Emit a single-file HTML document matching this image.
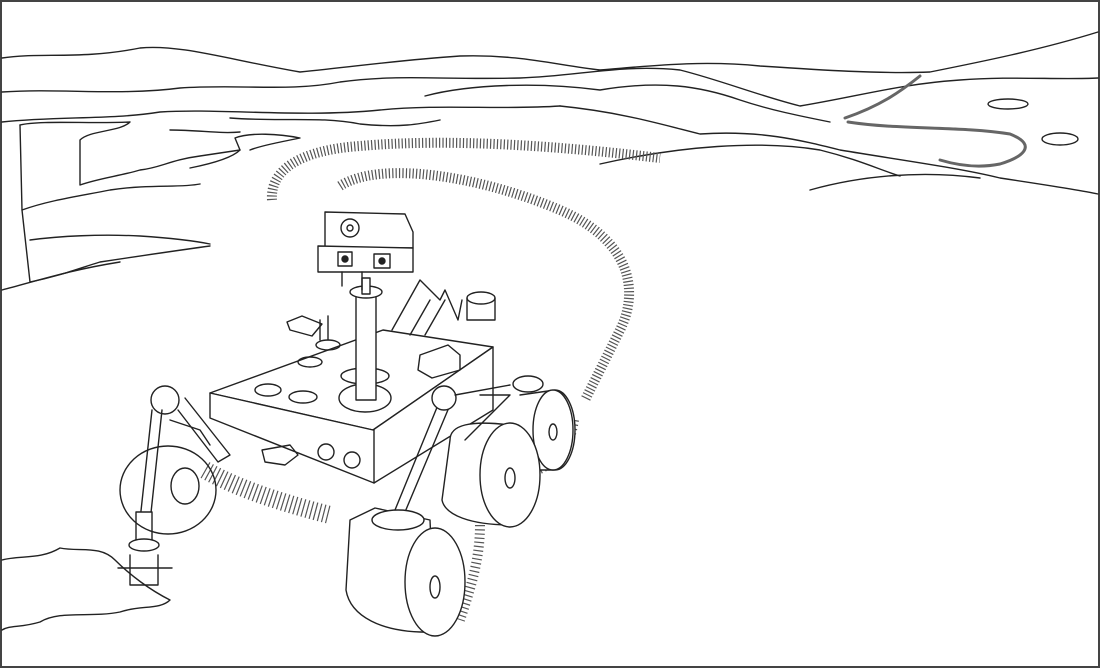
<!DOCTYPE html>
<html><head><meta charset="utf-8"><style>html,body{margin:0;padding:0;background:#fff}svg{display:block}</style></head>
<body>
<svg width="1100" height="668" viewBox="0 0 1100 668" xmlns="http://www.w3.org/2000/svg">
<rect x="1" y="1" width="1098" height="666" fill="#fff" stroke="#444" stroke-width="2"/>
<g fill="none" stroke="#222" stroke-width="1.4" stroke-linejoin="round" stroke-linecap="round">
<path d="M2,58 C40,52 80,60 140,48 C180,44 230,60 300,72 C360,66 400,60 460,56 C520,54 560,66 600,70 C650,66 700,60 760,66 C820,70 880,74 930,72 C980,62 1040,50 1098,32"/>
<path d="M2,92 C60,88 120,96 180,88 C240,84 290,92 340,82 C400,74 440,80 520,78 C580,76 620,64 680,70 C720,80 760,96 800,106 C860,96 900,84 960,80 C1010,76 1060,80 1098,78"/>
<path d="M425,96 C470,84 540,82 600,90 C660,80 700,86 740,100 C770,110 800,116 830,122"/>
<path d="M2,122 C60,116 110,120 160,112 C220,108 300,118 380,110 C440,104 500,110 560,106"/>
<path d="M560,106 C620,112 660,124 700,134 C760,130 800,140 840,150 C900,160 960,168 1000,178 C1040,184 1080,190 1098,194"/>
<path d="M600,164 C680,146 760,140 820,150 C860,160 880,170 900,176"/>
<path d="M810,190 C860,176 920,170 980,178"/>
<path d="M845,118 C880,106 900,92 920,76 M848,122 C900,130 960,126 1010,134 C1040,146 1020,158 1000,164 C980,168 960,166 940,160" stroke-width="3" stroke="#666"/>
<ellipse cx="1008" cy="104" rx="20" ry="5"/><ellipse cx="1060" cy="139" rx="18" ry="6"/>
<path d="M230,118 C280,122 320,116 360,124 C400,128 420,124 440,120"/>
<path d="M20,125 C40,120 90,124 130,122 C120,132 90,130 80,140 L80,185 C100,178 120,176 140,170 C160,168 170,160 200,156 L240,150 L235,138 C250,132 280,134 300,138 C280,142 260,146 250,150"/>
<path d="M20,125 L22,210 C50,200 80,196 110,190 C150,184 180,188 200,184"/>
<path d="M22,210 L30,282 C60,276 80,268 100,262 C140,256 180,250 210,246"/>
<path d="M30,240 C60,236 100,234 140,236 C170,238 190,240 210,244"/>
<path d="M2,290 C40,280 70,270 120,262"/>
<path d="M170,130 C200,130 220,134 240,132 M240,150 C230,160 200,166 190,168"/>
<g stroke="#555" stroke-linecap="butt">
<path d="M272,200 C270,170 300,150 360,146 C450,138 560,146 660,158" stroke-width="10" stroke-dasharray="1.2 2.2"/>
<path d="M340,186 C380,160 480,176 560,210 C630,240 640,290 620,330 C600,370 590,390 585,400" stroke-width="10" stroke-dasharray="1.2 2.2"/>
<path d="M205,470 C240,490 290,505 330,515" stroke-width="18" stroke-dasharray="1.2 3"/>
<path d="M480,525 C480,560 470,590 460,620" stroke-width="10" stroke-dasharray="1.2 3"/>
<path d="M540,470 C560,460 570,450 575,420" stroke-width="8" stroke-dasharray="1.2 3"/>
</g>
<path d="M210,393 L383,330 L493,347 L373,430 Z" fill="#fff"/>
<path d="M210,418 L374,483 L493,410 L493,347 L373,430 L210,393 Z" fill="#fff"/>
<path d="M374,430 L374,483"/>
<ellipse cx="268" cy="390" rx="13" ry="6"/><ellipse cx="303" cy="397" rx="14" ry="6"/><ellipse cx="310" cy="362" rx="12" ry="5"/>
<path d="M392,330 L420,280 L440,300 L445,290 L458,320 L462,300 M410,335 L430,300 M425,335 L445,300"/>
<ellipse cx="481" cy="298" rx="14" ry="6"/><path d="M467,298 L467,320 L495,320 L495,298"/>
<path d="M420,355 L448,345 L460,355 L460,370 L432,378 L418,370 Z"/>
<ellipse cx="365" cy="398" rx="26" ry="14" fill="#fff"/><ellipse cx="365" cy="376" rx="24" ry="8" fill="#fff"/>
<rect x="356" y="290" width="20" height="110" fill="#fff"/>
<ellipse cx="366" cy="292" rx="16" ry="6" fill="#fff"/>
<rect x="362" y="278" width="8" height="16" fill="#fff"/>
<path d="M325,212 L405,214 L413,232 L413,248 L325,248 Z" fill="#fff"/>
<circle cx="350" cy="228" r="9"/><circle cx="350" cy="228" r="3"/>
<path d="M318,246 L413,248 L413,272 L318,272 Z" fill="#fff"/>
<rect x="338" y="252" width="14" height="14"/><circle cx="345" cy="259" r="3" fill="#222"/>
<rect x="374" y="254" width="16" height="14"/><circle cx="382" cy="261" r="3" fill="#222"/>
<path d="M342,272 L342,286 M362,272 L362,290"/>
<path d="M287,322 L302,316 L322,324 L312,336 L290,330 Z"/>
<path d="M320,320 L320,340 M328,316 L328,340"/><ellipse cx="328" cy="345" rx="12" ry="5"/>
<path d="M262,450 L290,445 L298,455 L285,465 L265,462 Z"/>
<circle cx="326" cy="452" r="8"/><circle cx="352" cy="460" r="8"/>
<circle cx="165" cy="400" r="14" fill="#fff"/>
<path d="M185,398 L230,455 L218,462 L178,410" fill="#fff"/>
<path d="M152,410 L140,520 L150,522 L162,410"/>
<path d="M170,420 L200,430 L210,445"/>
<rect x="136" y="512" width="16" height="30" fill="#fff"/>
<ellipse cx="144" cy="545" rx="15" ry="6" fill="#fff"/>
<path d="M118,568 L172,568 M130,555 L130,585 L158,585 L158,555"/>
<ellipse cx="168" cy="490" rx="48" ry="44" fill="none"/>
<ellipse cx="185" cy="486" rx="14" ry="18"/>
<path d="M520,395 L555,390 A20,40 0 0 1 555,470 L520,470" fill="#fff"/>
<ellipse cx="553" cy="430" rx="20" ry="40" fill="#fff"/><ellipse cx="553" cy="432" rx="4" ry="8"/>
<path d="M450,440 C450,425 470,420 510,425 L512,525 C470,525 445,515 442,500 Z" fill="#fff"/>
<ellipse cx="510" cy="475" rx="30" ry="52" fill="#fff"/><ellipse cx="510" cy="478" rx="5" ry="10"/>
<path d="M440,400 L395,510 L405,512 L450,405"/>
<circle cx="444" cy="398" r="12" fill="#fff"/>
<path d="M455,395 L510,385 M480,395 L510,395 L465,440"/>
<ellipse cx="528" cy="384" rx="15" ry="8" fill="#fff"/>
<path d="M350,520 L375,508 L430,520 L435,632 C380,634 350,615 346,590 Z" fill="#fff"/>
<ellipse cx="398" cy="520" rx="26" ry="10" fill="#fff"/>
<ellipse cx="435" cy="582" rx="30" ry="54" fill="#fff"/><ellipse cx="435" cy="587" rx="5" ry="11"/>
<path d="M2,560 C20,555 40,560 60,548 C80,552 100,545 115,560 C130,575 150,590 170,600 C160,610 140,605 120,612 C90,618 60,610 40,622 C20,628 10,625 2,630"/>
</g>
</svg>
</body></html>
